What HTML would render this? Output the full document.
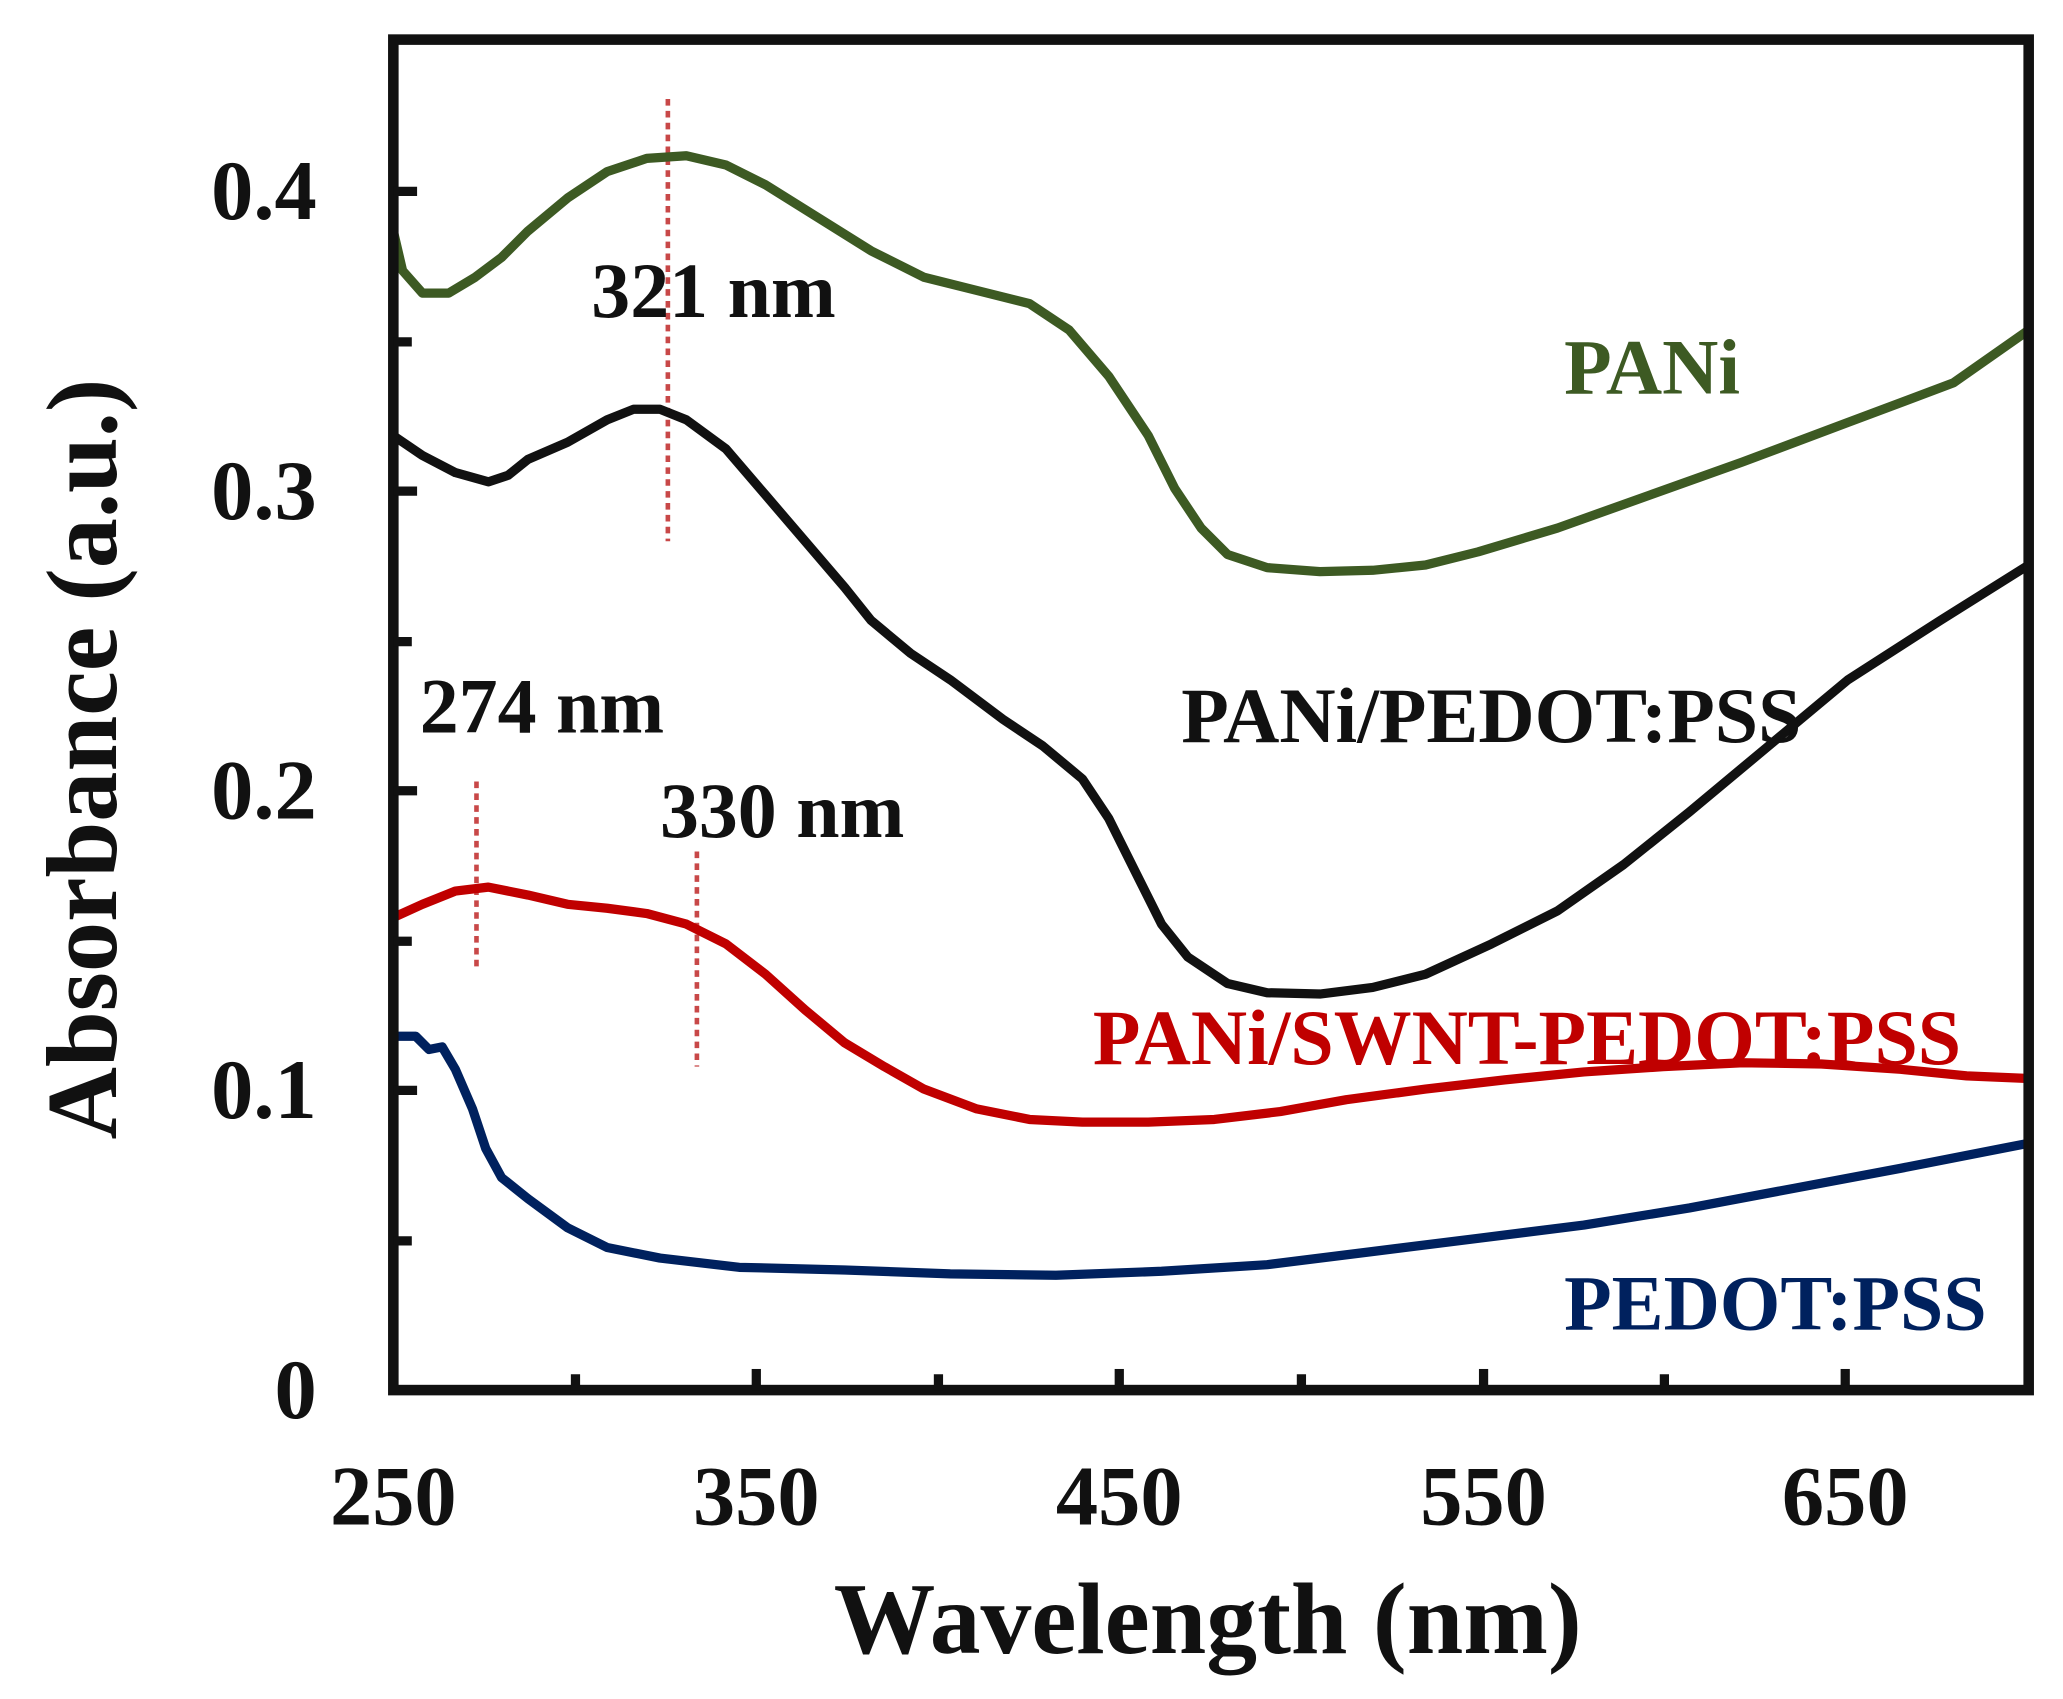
<!DOCTYPE html>
<html><head><meta charset="utf-8"><style>html,body{margin:0;padding:0;background:#fff}svg{display:block}</style></head>
<body>
<svg width="2063" height="1699" viewBox="0 0 1563 1287" preserveAspectRatio="none" xmlns="http://www.w3.org/2000/svg">
<g font-family="Liberation Serif, serif" font-weight="bold">
<g stroke="#c84848" stroke-width="3.5" stroke-dasharray="5,4" fill="none">
<line x1="506" y1="75" x2="506" y2="410"/>
<line x1="361" y1="592" x2="361" y2="733"/>
<line x1="528" y1="645" x2="528" y2="808"/>
</g>
<g fill="none" stroke-width="7" stroke-linejoin="round" stroke-linecap="round">
<polyline stroke="#3d5a23" points="298,175 305,205 320,222 340,222 360,210 380,195 400,175 430,150 460,130 490,120 520,118 550,125 580,140 620,165 660,190 700,210 740,220 780,230 810,250 840,285 870,330 890,370 910,400 930,420 960,430 1000,433 1040,432 1080,428 1120,418 1180,400 1250,375 1320,350 1400,320 1480,290 1537,250"/>
<polyline stroke="#111" points="298,330 320,345 345,358 370,365 385,360 400,348 430,335 460,318 480,310 500,310 520,318 550,340 580,375 610,410 640,445 660,470 690,495 720,515 760,545 790,565 820,590 840,620 860,660 880,700 900,725 930,745 960,752 1000,753 1040,748 1080,738 1130,715 1180,690 1230,655 1280,615 1340,565 1400,515 1470,470 1537,428"/>
<polyline stroke="#c00000" points="298,695 320,685 345,675 370,672 400,678 430,685 460,688 490,692 520,700 550,715 580,738 610,765 640,790 670,808 700,825 740,840 780,848 820,850 870,850 920,848 970,842 1020,833 1080,825 1140,818 1200,812 1260,808 1320,805 1380,806 1440,810 1490,815 1537,817"/>
<polyline stroke="#00215e" points="298,785 315,785 325,795 335,793 345,810 358,840 368,870 380,892 400,908 430,930 460,945 500,953 560,960 640,962 720,965 800,966 880,963 960,958 1040,948 1120,938 1200,928 1280,915 1360,900 1440,885 1537,866"/>
</g>
<rect x="298" y="30" width="1239" height="1023" fill="none" stroke="#111" stroke-width="8"/>
<g stroke="#111" stroke-width="7">
<line x1="298" y1="145" x2="316" y2="145"/><line x1="298" y1="259" x2="312" y2="259"/>
<line x1="298" y1="372" x2="316" y2="372"/><line x1="298" y1="486" x2="312" y2="486"/>
<line x1="298" y1="599" x2="316" y2="599"/><line x1="298" y1="713" x2="312" y2="713"/>
<line x1="298" y1="826" x2="316" y2="826"/><line x1="298" y1="940" x2="312" y2="940"/>
<line x1="436" y1="1053" x2="436" y2="1041"/><line x1="573" y1="1053" x2="573" y2="1037"/>
<line x1="711" y1="1053" x2="711" y2="1041"/><line x1="848" y1="1053" x2="848" y2="1037"/>
<line x1="986" y1="1053" x2="986" y2="1041"/><line x1="1124" y1="1053" x2="1124" y2="1037"/>
<line x1="1261" y1="1053" x2="1261" y2="1041"/><line x1="1398" y1="1053" x2="1398" y2="1037"/>
</g>
<g font-size="64" fill="#111" text-anchor="end">
<text x="240" y="166">0.4</text><text x="240" y="393">0.3</text><text x="240" y="620">0.2</text><text x="240" y="847">0.1</text><text x="240" y="1074">0</text>
</g>
<g font-size="64" fill="#111" text-anchor="middle">
<text x="298" y="1155">250</text><text x="573" y="1155">350</text><text x="848" y="1155">450</text><text x="1124" y="1155">550</text><text x="1398" y="1155">650</text>
</g>
<text x="915" y="1252" font-size="77" text-anchor="middle" fill="#111">Wavelength (nm)</text>
<text transform="translate(88,575) rotate(-90)" font-size="76" text-anchor="middle" fill="#111">Absorbance (a.u.)</text>
<g font-size="59">
<text x="448" y="240" fill="#111">321 nm</text>
<text x="318" y="555" fill="#111">274 nm</text>
<text x="500" y="634" fill="#111">330 nm</text>
<text x="1185" y="298" fill="#3d5a23">PANi</text>
<text x="895" y="562" fill="#111">PANi/PEDOT:PSS</text>
<text x="828" y="806" fill="#c00000">PANi/SWNT-PEDOT:PSS</text>
<text x="1185" y="1007" fill="#00215e">PEDOT:PSS</text>
</g>
</g>
</svg>
</body></html>
